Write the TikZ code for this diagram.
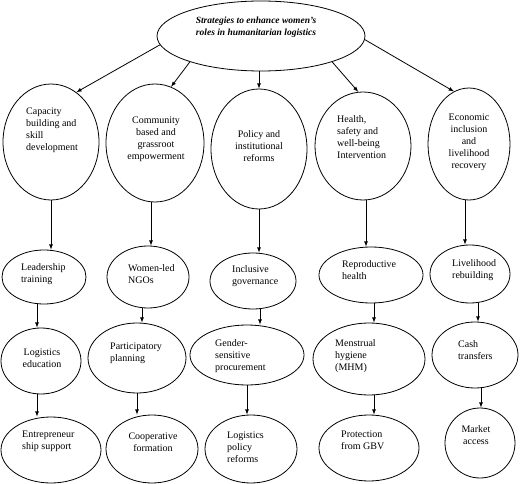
\documentclass[tikz,border=0pt]{standalone}
\usepackage{fontspec}
\setmainfont{Liberation Serif}
\usetikzlibrary{shapes.geometric}

\begin{document}
\begin{tikzpicture}[x=1pt,y=-1pt]
\tikzset{ell/.style={draw,ellipse,
                     line width=0.8pt,
                     inner sep=0pt},
         lbl/.style={inner sep=0pt,
                     align=left,
                     font=\fontsize{10}{12}\selectfont}
}
\useasboundingbox (0,0) rectangle (520,484);
% top
\node[ell,minimum width=208pt,minimum height=70pt] (T) at (261,36) {};
\node[lbl,align=center,font=\fontsize{9.5}{12}\selectfont\bfseries\itshape] (Tt) at (256,27) {Strategies to enhance women's\\roles in humanitarian logistics};
% first row
\node[ell,minimum width=96pt,minimum height=116pt]  (c1) at (51,142) {};
\node[ell,minimum width=98pt,minimum height=118pt]  (c2) at (155,143) {};
\node[ell,minimum width=96pt,minimum height=120pt]  (c3) at (259,149) {};
\node[ell,minimum width=96pt,minimum height=108pt]  (c4) at (363,146) {};
\node[ell,minimum width=82pt,minimum height=112pt]  (c5) at (469,144) {};
\node[lbl,anchor=west]    (c1t) at (26,130)  {Capacity\\building and\\skill\\development};
\node[lbl,align=center]   (c2t) at (156,139) {Community\\based and\\grassroot\\empowerment};
\node[lbl,align=center]   (c3t) at (259,146) {Policy and\\institutional\\reforms};
\node[lbl,anchor=west]    (c4t) at (337,137) {Health,\\safety and\\well-being\\Intervention};
\node[lbl,align=center]   (c5t) at (469,142) {Economic\\inclusion\\and\\livelihood\\recovery};
% second row
\node[ell,minimum width=84pt,minimum height=54pt]   (l1) at (44,277) {};
\node[ell,minimum width=82pt,minimum height=62pt]   (l2) at (148,277) {};
\node[ell,minimum width=86pt,minimum height=56pt]   (l3) at (253,281) {};
\node[ell,minimum width=104pt,minimum height=56pt]  (l4) at (371,275) {};
\node[ell,minimum width=80pt,minimum height=58pt]   (l5) at (470,274) {};
\node[lbl,anchor=west]    (l1t) at (21,274.5)  {Leadership\\training};
\node[lbl,anchor=west]    (l2t) at (128,274.5) {Women-led\\NGOs};
\node[lbl,anchor=west]    (l3t) at (232,276)   {Inclusive\\governance};
\node[lbl,anchor=west]    (l4t) at (342,270)   {Reproductive\\health};
\node[lbl,anchor=west]    (l5t) at (452,270.5) {Livelihood\\rebuilding};
% third row
\node[ell,minimum width=80pt,minimum height=66pt]   (m1) at (41,361) {};
\node[ell,minimum width=98pt,minimum height=70pt]   (m2) at (137,358) {};
\node[ell,minimum width=114pt,minimum height=60pt]  (m3) at (247,355) {};
\node[ell,minimum width=112pt,minimum height=72pt]  (m4) at (369,359) {};
\node[ell,minimum width=86pt,minimum height=66pt]   (m5) at (475,355) {};
\node[lbl,align=center]   (m1t) at (42,358)    {Logistics\\education};
\node[lbl,anchor=west]    (m2t) at (110,353.5) {Participatory\\planning};
\node[lbl,anchor=west]    (m3t) at (215,356)   {Gender-\\sensitive\\procurement};
\node[lbl,anchor=west]    (m4t) at (335,356)   {Menstrual\\hygiene\\(MHM)};
\node[lbl,anchor=west]    (m5t) at (458,350)   {Cash\\transfers};
% fourth row
\node[ell,minimum width=100pt,minimum height=66pt]  (n1) at (51,450) {};
\node[ell,minimum width=92pt,minimum height=68pt]   (n2) at (152,449) {};
\node[ell,minimum width=92pt,minimum height=68pt]   (n3) at (251,449) {};
\node[ell,minimum width=100pt,minimum height=66pt]  (n4) at (369,448) {};
\node[ell,minimum width=70pt,minimum height=70pt]   (n5) at (480,443) {};
\node[lbl,anchor=west]    (n1t) at (22,441)    {Entrepreneur\\ship support};
\node[lbl,align=center]   (n2t) at (153,442.5) {Cooperative\\formation};
\node[lbl,anchor=west]    (n3t) at (227,447)   {Logistics\\policy\\reforms};
\node[lbl,anchor=west]    (n4t) at (341,440.5) {Protection\\from GBV};
\node[lbl,align=center]   (n5t) at (476,435)   {Market\\access};
% arrows from the top
\draw[-latex,thick] (T.185) -- (c1.63);
\draw[-latex,thick] (T.200) -- (c2.74);
\draw[-latex,thick] (c3.north |- T.south) -- (c3.north);
\draw[-latex,thick] (T.340) -- (c4.95);
\draw[-latex,thick] (T.358) -- (c5.106);
% columns
\draw[-latex,thick] (c1.south) -- (c1.south |- l1.north);
\draw[-latex,thick] ([xshift=-4pt]c2.south) -- ([xshift=-4pt]c2.south |- l2.north);
\draw[-latex,thick] (c3.south) -- (c3.south |- l3.north);
\draw[-latex,thick] ([xshift=3pt]c4.south) -- ([xshift=3pt]c4.south |- l4.north);
\draw[-latex,thick] ([xshift=-4pt]c5.south) -- ([xshift=-4pt]c5.south |- l5.north);
\draw[-latex,thick] ([xshift=-7pt]l1.south) -- ([xshift=-7pt]l1.south |- m1.north);
\draw[-latex,thick] ([xshift=-6pt]l2.south) -- ([xshift=-6pt]l2.south |- m2.north);
\draw[-latex,thick] ([xshift=7pt]l3.south) -- ([xshift=7pt]l3.south |- m3.north);
\draw[-latex,thick] ([xshift=3pt]l4.south) -- ([xshift=3pt]l4.south |- m4.north);
\draw[-latex,thick] ([xshift=8pt]l5.south) -- ([xshift=8pt]l5.south |- m5.north);
\draw[-latex,thick] ([xshift=-4pt]m1.south) -- ([xshift=-4pt]m1.south |- n1.north);
\draw[-latex,thick] (m2.south) -- (m2.south |- n2.north);
\draw[-latex,thick] (m3.south) -- (m3.south |- n3.north);
\draw[-latex,thick] ([xshift=5pt]m4.south) -- ([xshift=5pt]m4.south |- n4.north);
\draw[-latex,thick] ([xshift=6pt]m5.south) -- ([xshift=6pt]m5.south |- n5.north);
\end{tikzpicture}
\end{document}
